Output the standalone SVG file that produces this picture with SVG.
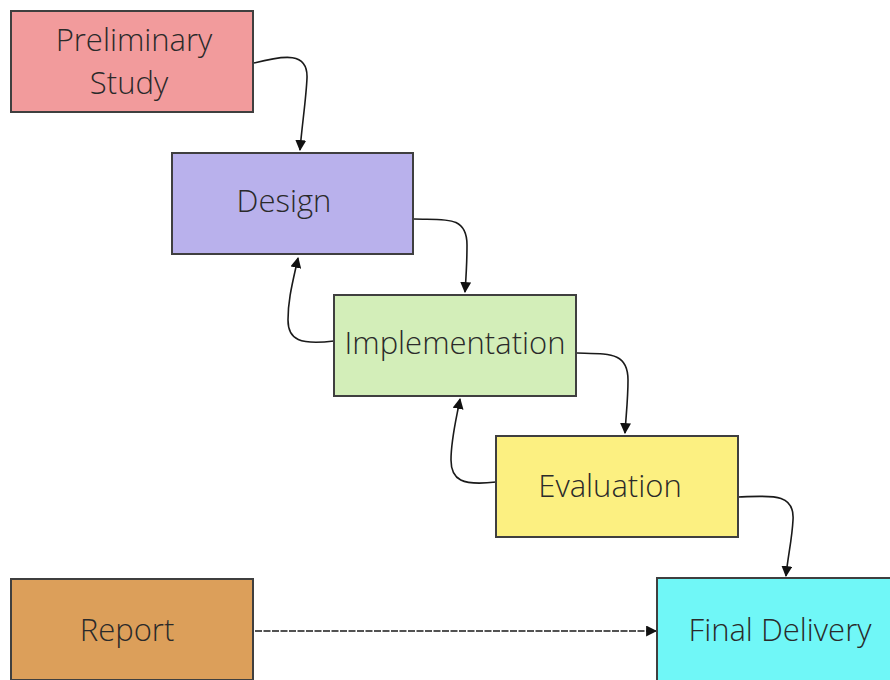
<svg xmlns="http://www.w3.org/2000/svg" width="890" height="680" viewBox="0 0 890 680">
<style>
.box{stroke:#3f3f3f;stroke-width:2}
.lbl{font-family:"Open Sans","Noto Sans",sans-serif;font-size:31px;font-weight:300;fill:#2a2a2a;text-anchor:middle;dominant-baseline:central}
.con{fill:none;stroke:#1a1a1a;stroke-width:1.6;marker-end:url(#arr)}
</style>
<defs>
<marker id="arr" viewBox="0 0 10 10" refX="9" refY="5" markerWidth="11" markerHeight="11" markerUnits="userSpaceOnUse" orient="auto">
<path d="M0,0 L10,5 L0,10 z" fill="#111"/>
</marker>
</defs>
<rect width="890" height="680" fill="#fff"/>
<g id="connectors">
<path class="con" d="M254,63 C285,55 308,52 307,78 C306,100 302,125 300,150"/>
<path class="con" d="M414,219 C445,220 467,215 467,245 C467,265 466,278 465,292"/>
<path class="con" d="M334,341 C300,345 288,340 288,320 C288,300 292,285 298,258"/>
<path class="con" d="M577,353 C610,354 628,352 628,380 C628,400 626,415 625,433"/>
<path class="con" d="M496,482 C462,486 451,480 451,460 C451,440 455,425 460,399"/>
<path class="con" d="M738,497 C770,496 795,492 793,520 C792,540 788,555 786,576"/>
<path class="con" d="M255,631 L656,631" stroke-dasharray="7,1.5" stroke="#333"/>
</g>
<g id="preliminary">
<rect class="box" x="11" y="11" width="242" height="101" fill="#f29b9c"/>
<text class="lbl" x="134" y="39">Preliminary</text>
<text class="lbl" x="129" y="82">Study</text>
</g>
<g id="design">
<rect class="box" x="172" y="153" width="241" height="101" fill="#b9b1ec"/>
<text class="lbl" x="284" y="200">Design</text>
</g>
<g id="implementation">
<rect class="box" x="334" y="295" width="242" height="101" fill="#d3eeb9"/>
<text class="lbl" x="455" y="342">Implementation</text>
</g>
<g id="evaluation">
<rect class="box" x="496" y="436" width="242" height="101" fill="#fcf081"/>
<text class="lbl" x="610" y="485">Evaluation</text>
</g>
<g id="report">
<rect class="box" x="11" y="579" width="242" height="101" fill="#dc9f5a"/>
<text class="lbl" x="127" y="629">Report</text>
</g>
<g id="final">
<rect class="box" x="657" y="578" width="240" height="103" fill="#70f7f7"/>
<text class="lbl" x="780" y="629">Final Delivery</text>
</g>
</svg>
